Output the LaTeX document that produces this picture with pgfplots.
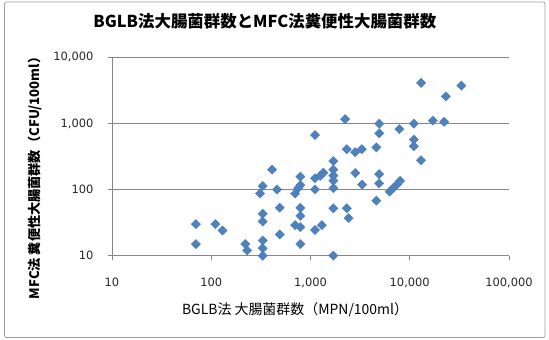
\documentclass[border=0pt]{standalone}
\usepackage{fontspec}
\setmainfont{Noto Sans CJK JP}
\newfontfamily\tickfont{DejaVu Sans}
\usepackage{pgfplots}
\pgfplotsset{compat=1.18}
\definecolor{pt}{HTML}{4F81BD}
\definecolor{ptd}{HTML}{4A7EBB}
\definecolor{gridc}{HTML}{868686}
\begin{document}
\begin{tikzpicture}
\useasboundingbox (0,0) rectangle (549bp,340bp);
\draw[color=gridc!80, line width=0.8bp, rounded corners=2bp] (4.5bp,2.5bp) rectangle (545bp,338bp);
\begin{axis}[
  at={(112bp,84.3bp)}, anchor=south west,
  scale only axis, width=397bp, height=198.4bp,
  xmode=log, ymode=log,
  xmin=10, xmax=100000, ymin=10, ymax=10000,
  log ticks with fixed point,
  /pgf/number format/1000 sep={,},
  /pgf/number format/assume math mode=true,
  xtick={10,100,1000,10000,100000},
  ytick={10,100,1000,10000},
  xminorticks=false, yminorticks=false,
  ymajorgrids,
  grid style={gridc, line width=0.8bp},
  axis x line=bottom, axis y line=left,
  axis line style={-, gridc, line width=0.8bp},
  tick style={gridc, line width=0.8bp},
  tick align=outside, major tick length=4bp,
  ticklabel style={font=\tickfont\fontsize{11.5}{13}\selectfont, text=black!85},
  xticklabel style={yshift=-15bp},
  yticklabel style={xshift=-11bp},
  title={BGLB法大腸菌群数とMFC法糞便性大腸菌群数},
  title style={at={(axis description cs:0.385,1.153)}, anchor=center, font=\fontsize{16.5}{18}\selectfont\bfseries},
  xlabel={BGLB法 大腸菌群数（MPN/100ml）},
  xlabel style={at={(axis description cs:0.461,-0.274)}, anchor=center, font=\fontsize{14}{16}\selectfont},
  ylabel={MFC法 糞便性大腸菌群数（CFU/100ml）},
  ylabel style={at={(axis description cs:-0.194,0.407)}, anchor=center, font=\fontsize{13.2}{15}\selectfont\bfseries},
  clip=false,
]
\addplot[only marks, mark=square*, mark size=3.3bp, mark options={rotate=45, fill=pt, draw=ptd, line width=0.3bp}] table {
x y
70 30
70 15
110 30
130 24
220 15
230 12
330 17
330 13
330 10
330 43
330 33
310 87
330 113
410 200
460 100
490 53
490 21
700 29
790 27
790 15
790 40
790 53
700 87
750 105
790 117
790 157
1110 670
1110 148
1250 161
1350 180
1110 100
1110 24.5
1300 29
1700 270
1700 200
1700 163
1700 136
1700 105
1700 52
1700 10
2230 1160
2320 408
2820 368
3290 408
2820 178
3310 119
2320 52
2420 37
4610 434
4920 990
4920 710
4920 171
4920 124
4610 68
6270 93
6850 106
7420 119
8000 135
7870 820
11000 990
11000 569
11000 452
13000 277
13000 4100
17100 1100
22200 1060
23100 2560
33100 3730
};
\end{axis}
\end{tikzpicture}
\end{document}
